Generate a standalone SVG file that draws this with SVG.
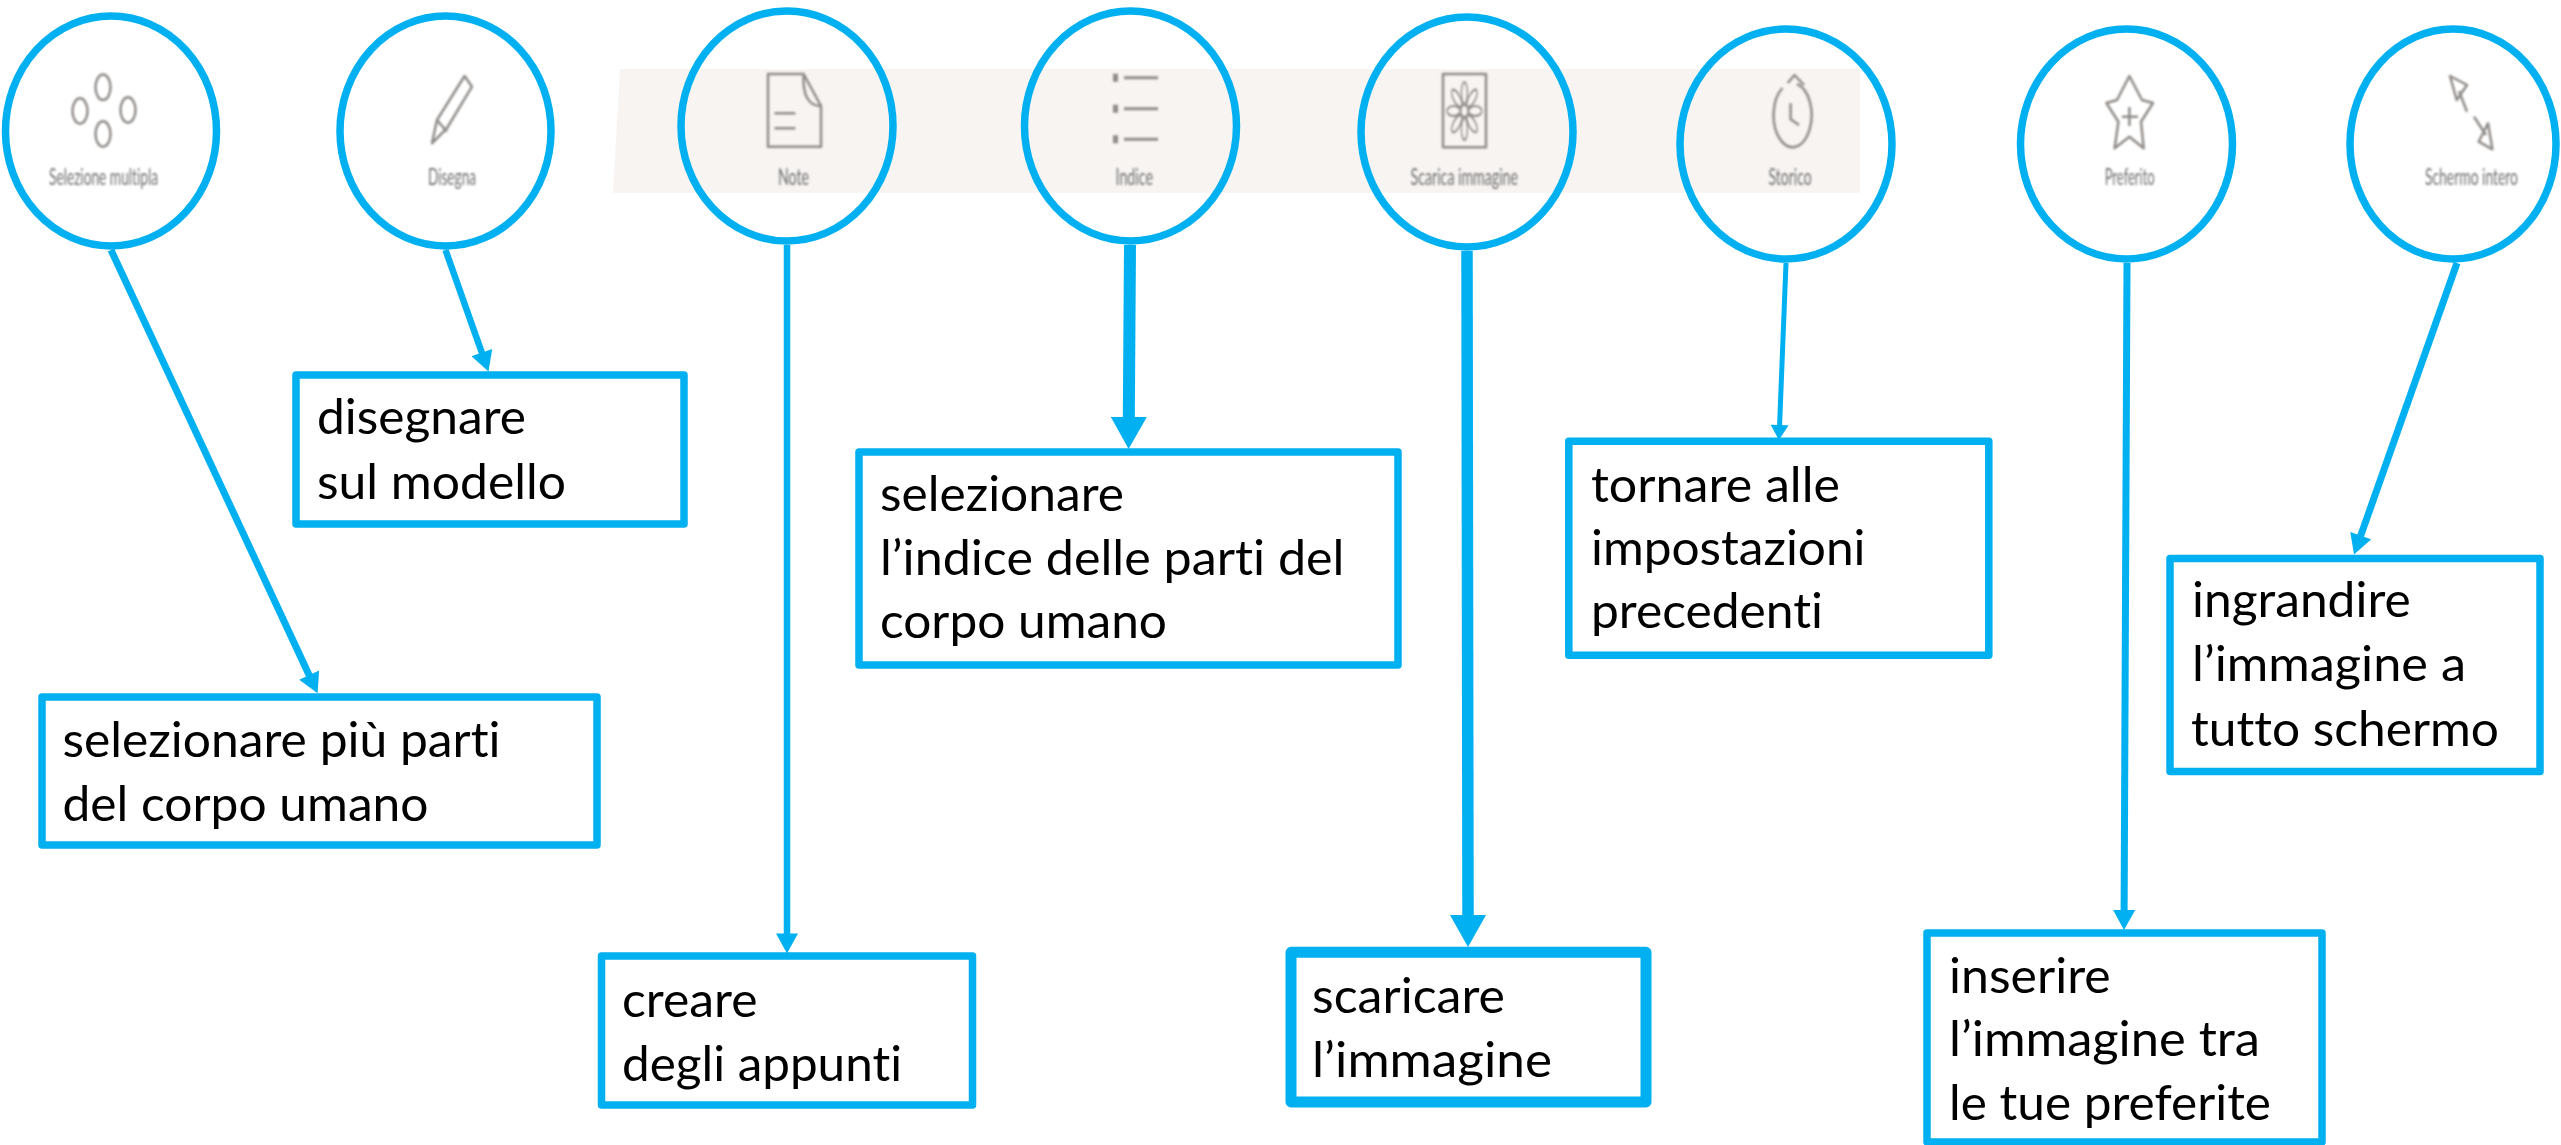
<svg xmlns="http://www.w3.org/2000/svg" width="2561" height="1145" viewBox="0 0 2561 1145">
<style>
.ell{fill:none;stroke:#00B0F0;stroke-width:7.5}
.box{fill:#fff;stroke:#00B0F0;stroke-width:7.5;stroke-linejoin:round}
.c{fill:none;stroke:#00B0F0}
.t{font-family:Lato,"Noto Sans",sans-serif;font-size:48.5px;fill:#000;font-variant-ligatures:none}
.lab{font-family:Lato,"Noto Sans",sans-serif;font-size:24px;fill:#6f6f6f;font-variant-ligatures:none}
.ic{fill:none;stroke:#8f8b88;stroke-width:2.5;stroke-linejoin:round}
</style>
<defs>
<marker id="thin" markerUnits="userSpaceOnUse" markerWidth="22" markerHeight="22" viewBox="0 0 20 22" refX="2" refY="11" orient="auto"><path d="M0 0L20 11L0 22Z" fill="#00B0F0"/></marker>
<marker id="thick" markerUnits="userSpaceOnUse" markerWidth="36" markerHeight="36" viewBox="0 0 32 36" refX="2" refY="18" orient="auto"><path d="M0 0L32 18L0 36Z" fill="#00B0F0"/></marker>
<marker id="fine" markerUnits="userSpaceOnUse" markerWidth="18" markerHeight="18" viewBox="0 0 15 18" refX="2" refY="9" orient="auto"><path d="M0 0L15 9L0 18Z" fill="#00B0F0"/></marker>
<filter id="soft" x="-10%" y="-10%" width="120%" height="120%"><feGaussianBlur stdDeviation="0.8"/></filter>
</defs>
<rect width="2561" height="1145" fill="#fff"/>
<polygon points="620,69 1860,69 1860,192.7 613,192.7" fill="#f7f4f2"/>

<g id="connectors">
<line class="c" stroke-width="7" x1="111" y1="250" x2="310" y2="676.9" marker-end="url(#thin)"/>
<line class="c" stroke-width="6.5" x1="445.5" y1="250" x2="482.5" y2="354.5" marker-end="url(#thin)"/>
<line class="c" stroke-width="6.5" x1="787" y1="245" x2="787" y2="935.5" marker-end="url(#thin)"/>
<line class="c" stroke-width="12" x1="1130" y1="245" x2="1128.8" y2="419" marker-end="url(#thick)"/>
<line class="c" stroke-width="11.5" x1="1467" y1="251" x2="1468" y2="917" marker-end="url(#thick)"/>
<line class="c" stroke-width="5" x1="1786" y1="263" x2="1779.5" y2="427" marker-end="url(#fine)"/>
<line class="c" stroke-width="7" x1="2127" y1="263" x2="2124.1" y2="912" marker-end="url(#thin)"/>
<line class="c" stroke-width="7" x1="2457" y1="263" x2="2360" y2="537.6" marker-end="url(#thin)"/>
</g>

<g id="node-selezione">
<ellipse class="ell" cx="111" cy="131" rx="105.5" ry="115"/>
<g filter="url(#soft)"><ellipse class="ic" cx="103" cy="87.3" rx="7.5" ry="12.7"/><ellipse class="ic" cx="80" cy="111" rx="7.5" ry="12.7"/><ellipse class="ic" cx="128" cy="110" rx="7.5" ry="12.7"/><ellipse class="ic" cx="103" cy="134" rx="7.5" ry="12.7"/>
<text class="lab" x="49" y="185" textLength="109" lengthAdjust="spacingAndGlyphs">Selezione multipla</text></g>
</g>
<g id="node-disegna">
<ellipse class="ell" cx="445.5" cy="131" rx="105.5" ry="115"/>
<g filter="url(#soft)"><path class="ic" d="M464.6 76L437 120L432 143.3L447 128L472 86.7Z M437 120L447 131.7"/>
<text class="lab" x="428" y="185" textLength="48" lengthAdjust="spacingAndGlyphs">Disegna</text></g>
</g>
<g id="node-note">
<ellipse class="ell" cx="787" cy="126" rx="106" ry="115"/>
<g filter="url(#soft)"><path class="ic" d="M768 74H803.6L821 106V146.7H768Z M803.6 74Q802 106 821 106 M774.5 113.3H795.4 M774.5 128.3H795.4"/>
<text class="lab" x="778" y="185" textLength="31" lengthAdjust="spacingAndGlyphs">Note</text></g>
</g>
<g id="node-indice">
<ellipse class="ell" cx="1130.5" cy="126" rx="106" ry="115"/>
<g filter="url(#soft)"><path class="ic" style="stroke-width:5" d="M1115.5 73.7V81.7 M1115.5 104.7V112.7 M1115.5 135.3V143.3"/><path class="ic" style="stroke-width:3" d="M1124 77.7H1158 M1124 108.7H1158 M1124 139.3H1158"/>
<text class="lab" x="1115.5" y="185" textLength="37.5" lengthAdjust="spacingAndGlyphs">Indice</text></g>
</g>
<g id="node-scarica">
<ellipse class="ell" cx="1467" cy="132" rx="106" ry="115"/>
<g filter="url(#soft)"><rect class="ic" x="1443" y="74" width="43" height="73.3"/>
<g transform="translate(1464.4 111) scale(.6 1)"><g class="ic" style="stroke-width:2.2"><ellipse cy="-18" rx="5" ry="11"/><ellipse cy="-18" rx="5" ry="11" transform="rotate(45)"/><ellipse cy="-18" rx="5" ry="11" transform="rotate(90)"/><ellipse cy="-18" rx="5" ry="11" transform="rotate(135)"/><ellipse cy="-18" rx="5" ry="11" transform="rotate(180)"/><ellipse cy="-18" rx="5" ry="11" transform="rotate(225)"/><ellipse cy="-18" rx="5" ry="11" transform="rotate(270)"/><ellipse cy="-18" rx="5" ry="11" transform="rotate(315)"/><circle r="6"/></g></g>
<text class="lab" x="1410.6" y="185" textLength="107.4" lengthAdjust="spacingAndGlyphs">Scarica immagine</text></g>
</g>
<g id="node-storico">
<ellipse class="ell" cx="1786" cy="144" rx="106" ry="115"/>
<g filter="url(#soft)"><path class="ic" d="M1782.5 88A19 32 0 1 0 1797 84 M1787.8 83L1794.5 75L1804 85 M1790.6 103.3V119.3L1799 125"/>
<text class="lab" x="1768.6" y="185" textLength="43" lengthAdjust="spacingAndGlyphs">Storico</text></g>
</g>
<g id="node-preferito">
<ellipse class="ell" cx="2126.5" cy="144" rx="106" ry="115"/>
<g filter="url(#soft)"><path class="ic" d="M2129.4 76L2142 100L2153 103L2141 121.7L2143.7 148.3L2129.4 136.7L2114.6 148.3L2118.4 121.7L2106.4 103L2117 100Z M2129.4 107V126 M2122 116.7H2138"/>
<text class="lab" x="2104.7" y="185" textLength="50" lengthAdjust="spacingAndGlyphs">Preferito</text></g>
</g>
<g id="node-schermo">
<ellipse class="ell" cx="2453" cy="144" rx="103" ry="115"/>
<g filter="url(#soft)"><path class="ic" d="M2450 76L2467 85L2456.7 100Z M2459 91L2467 111.7 M2474 116.7L2486 135 M2492.4 149.3L2478.7 141.7L2488 123.3Z"/>
<text class="lab" transform="translate(2425 185) scale(.62 1)" textLength="150" lengthAdjust="spacingAndGlyphs">Schermo intero</text></g>
</g>

<g id="box-selezionare">
<rect class="box" x="42" y="697" width="555" height="148"/>
<text class="t" x="62.5" y="757" textLength="438" lengthAdjust="spacingAndGlyphs">selezionare più parti</text>
<text class="t" x="62.5" y="821" textLength="366" lengthAdjust="spacingAndGlyphs">del corpo umano</text>
</g>
<g id="box-disegnare">
<rect class="box" x="296" y="375" width="388" height="149"/>
<text class="t" x="317" y="434" textLength="209" lengthAdjust="spacingAndGlyphs">disegnare</text>
<text class="t" x="317" y="499" textLength="249" lengthAdjust="spacingAndGlyphs">sul modello</text>
</g>
<g id="box-creare">
<rect class="box" x="601.5" y="956" width="371" height="149"/>
<text class="t" x="622" y="1016.6" textLength="135.6" lengthAdjust="spacingAndGlyphs">creare</text>
<text class="t" x="622" y="1081" textLength="280" lengthAdjust="spacingAndGlyphs">degli appunti</text>
</g>
<g id="box-indice">
<rect class="box" x="859" y="452" width="539" height="213"/>
<text class="t" x="880" y="511" textLength="244" lengthAdjust="spacingAndGlyphs">selezionare</text>
<text class="t" x="880" y="575" textLength="464.4" lengthAdjust="spacingAndGlyphs">l’indice delle parti del</text>
<text class="t" x="880" y="638" textLength="287" lengthAdjust="spacingAndGlyphs">corpo umano</text>
</g>
<g id="box-scaricare">
<rect class="box" style="stroke-width:11" x="1291" y="952.3" width="355" height="149.6"/>
<text class="t" x="1312" y="1012.5" textLength="193" lengthAdjust="spacingAndGlyphs">scaricare</text>
<text class="t" x="1312" y="1076.6" textLength="240" lengthAdjust="spacingAndGlyphs">l’immagine</text>
</g>
<g id="box-tornare">
<rect class="box" x="1568.8" y="441.3" width="420" height="214"/>
<text class="t" x="1591" y="501.7" textLength="249" lengthAdjust="spacingAndGlyphs">tornare alle</text>
<text class="t" x="1591" y="565" textLength="274.5" lengthAdjust="spacingAndGlyphs">impostazioni</text>
<text class="t" x="1591" y="627.5" textLength="232" lengthAdjust="spacingAndGlyphs">precedenti</text>
</g>
<g id="box-inserire">
<rect class="box" x="1927" y="933" width="395" height="209"/>
<text class="t" x="1949" y="993" textLength="161.7" lengthAdjust="spacingAndGlyphs">inserire</text>
<text class="t" x="1949" y="1056" textLength="311" lengthAdjust="spacingAndGlyphs">l’immagine tra</text>
<text class="t" x="1949" y="1120" textLength="322" lengthAdjust="spacingAndGlyphs">le tue preferite</text>
</g>
<g id="box-ingrandire">
<rect class="box" x="2170" y="558.4" width="370" height="213"/>
<text class="t" x="2192" y="617" textLength="218.7" lengthAdjust="spacingAndGlyphs">ingrandire</text>
<text class="t" x="2192" y="681" textLength="274" lengthAdjust="spacingAndGlyphs">l’immagine a</text>
<text class="t" x="2191" y="745.5" textLength="308" lengthAdjust="spacingAndGlyphs">tutto schermo</text>
</g>
</svg>
